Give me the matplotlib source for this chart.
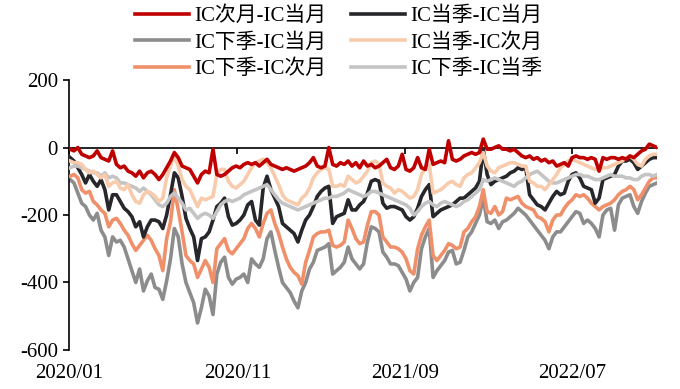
import pandas as pd
import matplotlib
matplotlib.use('Agg')
import matplotlib.pyplot as plt

plt.rcParams['font.family'] = ['Liberation Serif', 'Noto Sans CJK SC']
plt.rcParams['font.size'] = 15
plt.rcParams['axes.unicode_minus'] = False

# weekly spread values (points), Fridays from 2020-01-03
dates = pd.date_range('2020-01-03', periods=153, freq='W-FRI')

ic_m1_m0 = [
    -5, -10, 0, -20, -25, -30, -25, -10, -30, -35, -40, -10, -50, -60, -55, -70,
    -75, -85, -70, -90, -75, -70, -80, -95, -80, -60, -40, -15, -30, -55, -60, -65,
    -85, -105, -80, -70, -75, -5, -80, -85, -80, -70, -60, -55, -60, -50, -45, -50,
    -45, -55, -45, -35, -50, -55, -60, -65, -60, -65, -70, -65, -60, -55, -45, -30,
    -55, -60, -55, 0, -50, -55, -45, -50, -40, -55, -45, -60, -40, -55, -50, -60,
    -55, -45, -35, -60, -65, -55, -20, -65, -70, -60, -30, -60, -65, -5, -50, -45,
    -40, -45, 20, -35, -40, -35, -25, -20, -15, -20, -15, 25, -5, -5, 0, 5,
    -5, -5, -10, -5, -15, -25, -30, -25, -35, -30, -40, -35, -45, -40, -55, -50,
    -45, -55, -30, -25, -30, -30, -35, -30, -35, -70, -30, -35, -30, -30, -35, -30,
    -35, -25, -30, -20, -10, -5, 10, 5, 0,
]
ic_q0_m0 = [
    -30, -40, -60, -80, -105, -80, -100, -115, -95, -125, -185, -140, -140, -160, -180, -190,
    -205, -235, -220, -265, -235, -215, -215, -220, -240, -200, -140, -75, -90, -145, -210, -240,
    -265, -335, -270, -265, -250, -215, -175, -165, -150, -205, -230, -225, -215, -200, -170, -160,
    -215, -230, -120, -85, -125, -150, -175, -225, -235, -245, -255, -280, -245, -215, -200, -175,
    -145, -130, -120, -115, -225, -205, -200, -195, -155, -185, -185, -170, -160, -135, -100, -95,
    -100, -165, -180, -175, -175, -180, -185, -205, -215, -205, -180, -145, -125, -110, -205, -195,
    -185, -180, -175, -170, -160, -150, -150, -140, -130, -120, -100, -5, -80, -110, -100, -95,
    -90, -85, -75, -70, -60, -65, -60, -140, -155, -170, -175, -185, -165, -145, -130, -140,
    -135, -100, -80, -75, -90, -115, -120, -125, -165, -150, -95, -90, -85, -80, -55, -40,
    -40, -35, -45, -65, -55, -45, -35, -30, -30,
]
ic_q1_m0 = [
    -95, -105, -135, -165, -175, -200, -215, -195, -245, -265, -320, -265, -280, -275, -295, -330,
    -365, -400, -360, -425, -395, -375, -415, -420, -450, -395, -330, -240, -265, -345, -400, -430,
    -460, -520, -475, -420, -440, -495, -375, -340, -325, -385, -405, -390, -385, -375, -400, -330,
    -345, -355, -330, -270, -250, -305, -355, -400, -415, -430, -455, -475, -425, -400, -360, -340,
    -305, -300, -295, -285, -375, -365, -355, -340, -295, -330, -345, -360, -345, -280, -235, -240,
    -250, -310, -325, -345, -345, -350, -370, -390, -425, -400, -385, -300, -265, -240, -385, -365,
    -350, -335, -310, -305, -345, -340, -305, -265, -250, -225, -200, -150, -220, -225, -215, -240,
    -220, -215, -205, -195, -180, -190, -200, -215, -230, -245, -260, -275, -300, -265, -250, -250,
    -235, -220, -205, -190, -195, -225, -215, -225, -240, -265, -200, -185, -180, -245, -170, -150,
    -145, -140, -175, -195, -160, -135, -115, -110, -105,
]
ic_q0_m1 = [
    -40, -45, -45, -50, -65, -75, -70, -80, -90, -80, -115, -105, -100, -120, -125, -110,
    -140, -160, -165, -140, -130, -135, -145, -160, -150, -90, -55, -25, -55, -95, -115, -125,
    -150, -175, -150, -155, -150, -145, -80, -65, -65, -100, -115, -120, -110, -100, -80, -60,
    -45, -40, -35, -45, -60, -85, -110, -140, -155, -160, -165, -170, -150, -140, -120, -90,
    -75, -65, -60, -65, -115, -115, -110, -115, -85, -95, -105, -100, -85, -70, -45, -40,
    -50, -105, -115, -120, -135, -125, -130, -140, -150, -145, -125, -80, -60, -50, -135, -130,
    -125, -115, -105, -100, -110, -115, -90, -80, -75, -60, -45, -15, -55, -70, -75, -60,
    -55, -50, -45, -45, -50, -55, -55, -100, -105, -115, -115, -125, -110, -95, -80, -60,
    -50, -40, -35, -40, -45, -50, -55, -60, -65, -65, -60, -60, -55, -50, -45, -40,
    -30, -25, -35, -50, -55, -35, -25, -20, -20,
]
ic_q1_m1 = [
    -85, -80, -90, -125, -135, -130, -160, -170, -185, -195, -235, -215, -210, -225, -245, -260,
    -285, -305, -290, -275, -260, -275, -300, -320, -365, -270, -220, -125, -185, -250, -320, -335,
    -345, -385, -360, -335, -355, -400, -300, -285, -270, -305, -315, -300, -285, -270, -240, -225,
    -240, -265, -225, -195, -185, -225, -255, -295, -330, -355, -370, -380, -405, -340, -305, -265,
    -255, -250, -250, -245, -290, -295, -290, -280, -215, -240, -270, -285, -280, -230, -190, -190,
    -200, -265, -280, -295, -295, -300, -310, -330, -365, -375, -300, -260, -235, -215, -320, -335,
    -320, -305, -285, -290, -300, -295, -250, -240, -220, -205, -175, -125, -190, -195, -175, -200,
    -190, -150, -155, -150, -145, -165, -175, -180, -185, -205, -210, -220, -250, -215, -200, -200,
    -180, -165, -155, -140, -145, -140, -150, -165, -175, -185, -175, -170, -165, -155, -140, -130,
    -125, -115, -125, -155, -140, -120, -100, -90, -90,
]
ic_q1_q0 = [
    -60, -55, -55, -60, -65, -70, -75, -75, -85, -75, -90, -85, -90, -105, -105, -110,
    -115, -120, -130, -120, -130, -140, -155, -170, -175, -165, -145, -135, -150, -165, -185, -180,
    -195, -210, -200, -195, -200, -210, -190, -170, -160, -155, -160, -155, -150, -140, -135, -130,
    -125, -120, -115, -110, -125, -140, -155, -165, -170, -175, -180, -185, -180, -175, -170, -165,
    -160, -155, -150, -150, -145, -145, -140, -135, -125, -130, -135, -140, -145, -140, -130, -130,
    -135, -140, -145, -150, -155, -160, -165, -170, -180, -200, -190, -175, -165, -160, -170, -175,
    -165, -160, -165, -170, -175, -170, -160, -155, -145, -135, -125, -95, -100, -95, -90, -95,
    -100, -105, -110, -115, -105, -100, -90, -80, -75, -70, -80, -90, -100, -105, -105, -100,
    -95, -90, -85, -80, -80, -85, -85, -90, -95, -95, -90, -85, -80, -85, -85, -85,
    -90, -90, -95, -95, -85, -80, -80, -85, -80,
]

labels = ['IC次月-IC当月', 'IC当季-IC当月', 'IC下季-IC当月',
          'IC当季-IC次月', 'IC下季-IC次月', 'IC下季-IC当季']
series = [ic_m1_m0, ic_q0_m0, ic_q1_m0, ic_q0_m1, ic_q1_m1, ic_q1_q0]
colors = ['#C00000', '#26262B', '#8C8C8C', '#F8CBAD', '#F0906A', '#C4C4C4']
zorders = [7, 4, 2, 6, 3, 5]

fig = plt.figure(figsize=(6.8, 3.89), dpi=100)
ax = fig.add_axes([0.1015, 0.1003, 0.8647, 0.694])

lines = {}
for lab, vals, c, z in zip(labels, series, colors, zorders):
    lines[lab], = ax.plot(dates, vals, color=c, lw=2.6, zorder=z, label=lab)

ax.set_ylim(-600, 200)
ax.set_yticks([-600, -400, -200, 0, 200])
ax.set_xlim(pd.Timestamp('2020-01-01'), pd.Timestamp('2022-12-02'))
xt = pd.to_datetime(['2020-01-01', '2020-11-01', '2021-09-01', '2022-07-01'])
ax.set_xticks(xt)
ax.set_xticklabels([d.strftime('%Y/%m') for d in xt])

for s in ['top', 'right']:
    ax.spines[s].set_visible(False)
ax.spines['bottom'].set_position(('data', 0))
ax.spines['bottom'].set_zorder(1)
for s in ['bottom', 'left']:
    ax.spines[s].set_linewidth(1.2)
ax.tick_params(axis='y', length=4, width=1.2, pad=4)
ax.tick_params(axis='x', length=4, width=1.2, pad=152)

order = ['IC次月-IC当月', 'IC下季-IC当月', 'IC下季-IC次月',
         'IC当季-IC当月', 'IC当季-IC次月', 'IC下季-IC当季']
fig.legend([lines[k] for k in order], order, ncol=2, loc='upper center',
           bbox_to_anchor=(0.498, 1.015), frameon=False, handlelength=2.6,
           handletextpad=0.25, columnspacing=1.15, labelspacing=0.32,
           borderpad=0.1)

fig.savefig('out.png', dpi=100)
